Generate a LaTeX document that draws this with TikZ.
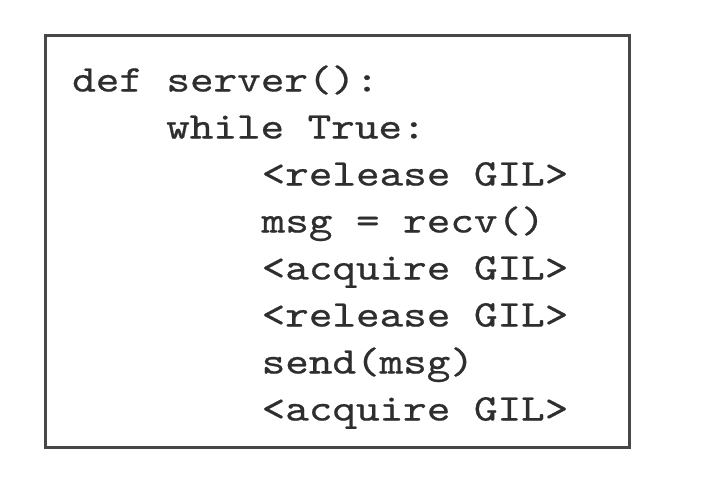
\documentclass[tikz,border=0pt]{standalone}
\usepackage{fontspec}
\usepackage{tikz}
\newfontfamily\codefont[FakeStretch=1.195,FakeBold=0.6]{lmmono10-regular.otf}

\begin{document}
\begin{tikzpicture}[
  x=1pt, y=-1pt,
  listing/.style={
    rectangle,
    draw=black!72,
    line width=3pt,
    minimum width=584pt,
    minimum height=412pt,
    inner sep=0pt
  },
  code/.style={
    anchor=base west,
    inner sep=0pt,
    text=black!82,
    font=\codefont\fontsize{37.6}{47}\selectfont
  }
]
\useasboundingbox (0,0) rectangle (708,496);

% Frame around the listing
\node[listing] (frame) at (337,241) {};

% Code lines
\node[code] (def)  at (72,91.5)    {def server():};
\node[code] (loop) at (166,138.5)  {while True:};
\node[code] (rel1) at (261.5,185.5) {<release GIL>};
\node[code] (recv) at (261.5,232.5) {msg = recv()};
\node[code] (acq1) at (261.5,279.5) {<acquire GIL>};
\node[code] (rel2) at (261.5,326.5) {<release GIL>};
\node[code] (send) at (261.5,373.5) {send(msg)};
\node[code] (acq2) at (261.5,420.5) {<acquire GIL>};
\end{tikzpicture}
\end{document}
